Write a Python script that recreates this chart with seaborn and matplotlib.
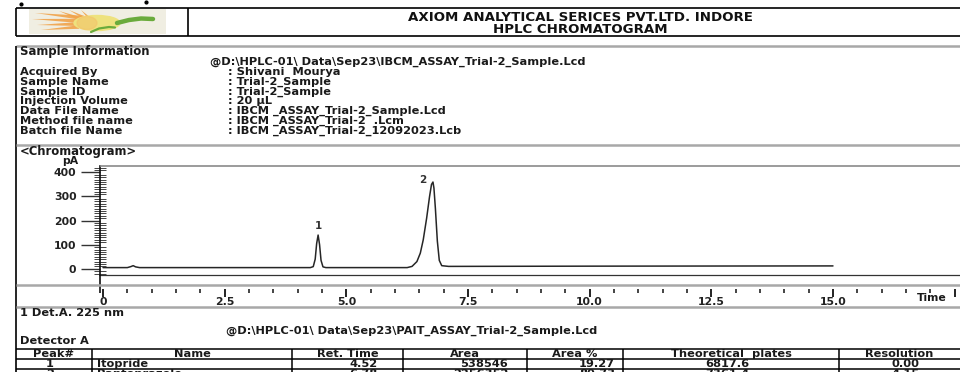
import matplotlib
matplotlib.use("Agg")
import matplotlib.pyplot as plt
from matplotlib.lines import Line2D
from matplotlib.patches import Rectangle, Ellipse, Polygon
from matplotlib.ticker import FixedLocator, MultipleLocator
import seaborn as sns
import pandas as pd

# ---------------- data ----------------
title_line1 = "AXIOM ANALYTICAL SERICES PVT.LTD. INDORE"
title_line2 = "HPLC CHROMATOGRAM"

info_path = "@D:\\HPLC-01\\ Data\\Sep23\\IBCM_ASSAY_Trial-2_Sample.Lcd"
info_labels = ["Acquired By", "Sample Name", "Sample ID", "Injection Volume",
               "Data File Name", "Method file name", "Batch file Name"]
info_values = [": Shivani  Mourya", ": Trial-2_Sample", ": Trial-2_Sample", ": 20 µL",
               ": IBCM _ASSAY_Trial-2_Sample.Lcd", ": IBCM _ASSAY_Trial-2  .Lcm",
               ": IBCM _ASSAY_Trial-2_12092023.Lcb"]

# chromatogram trace (time in min, signal in pA)
trace_time = [0.00, 0.50, 0.57, 0.62, 0.67, 0.75, 4.26, 4.32, 4.36, 4.39, 4.42,
              4.45, 4.48, 4.52, 4.58, 6.25, 6.35, 6.45, 6.52, 6.58, 6.65, 6.71,
              6.75, 6.78, 6.80, 6.83, 6.87, 6.91, 6.96, 7.10, 10.0, 15.0]
trace_pA = [5, 5, 9, 13, 8, 5, 5, 9, 40, 105, 140,
            100, 35, 8, 5, 5, 10, 30, 65, 120, 210, 300,
            350, 360, 335, 250, 115, 35, 13, 10, 11, 12]

peak_ids = ["1", "2"]
peak_time = [4.42, 6.77]
peak_height = [140, 361]

x_major = [0, 2.5, 5.0, 7.5, 10.0, 12.5, 15.0, 17.5]
x_labels = ["0", "2.5", "5.0", "7.5", "10.0", "12.5", "15.0", ""]
y_major = [0, 100, 200, 300, 400]
y_labels = ["0", "100", "200", "300", "400"]

det_label = "1 Det.A. 225 nm"
table_path = "@D:\\HPLC-01\\ Data\\Sep23\\PAIT_ASSAY_Trial-2_Sample.Lcd"
table_headers = ["Peak#", "Name", "Ret. Time", "Area", "Area %",
                 "Theoretical  plates", "Resolution"]
peak_no = ["1", "2"]
names = ["Itopride", "Pantoprazole"]
ret_time = ["4.52", "6.78"]
area = ["538546", "2256352"]
area_pct = ["19.27", "80.73"]
plates = ["6817.6", "7361.4"]
resolution = ["0.00", "4.15"]

# ---------------- figure ----------------
sns.set_theme(style="white")
plt.rcParams['font.family'] = ['DejaVu Sans']

W, H = 960, 372
fig = plt.figure(figsize=(W / 100, H / 100), dpi=100)
fig.patch.set_facecolor("white")


def X(px):
    return px / W


def Y(py):
    return 1 - py / H


def hline(y, x0, x1, color="black", lw=1.1):
    fig.add_artist(Line2D([X(x0), X(x1)], [Y(y), Y(y)], color=color, lw=lw,
                          transform=fig.transFigure, solid_capstyle="butt"))


def vline(x, y0, y1, color="black", lw=1.1):
    fig.add_artist(Line2D([X(x), X(x)], [Y(y0), Y(y1)], color=color, lw=lw,
                          transform=fig.transFigure, solid_capstyle="butt"))


def txt(x, y, s, ha="left", size=8.2, weight="bold", color="#1a1a1a", va="center"):
    fig.text(X(x), Y(y), s, ha=ha, va=va, fontsize=size,
             fontweight=weight, color=color)


GRAY = "#a8a8a8"

# header box
hline(8, 16, 960, lw=1.2)
hline(36, 16, 960, lw=1.2)
vline(16, 8, 36, lw=1.2)
vline(188, 8, 36, lw=1.2)
txt(580, 21.0, title_line1, ha="center", size=9.6, color="#111", va="baseline")
txt(580, 33.0, title_line2, ha="center", size=9.6, color="#111", va="baseline")
fig.add_artist(Line2D([X(21)], [Y(4)], marker="o", ms=2, color="black",
                      transform=fig.transFigure))
fig.add_artist(Line2D([X(146)], [Y(2)], marker="o", ms=2, color="black",
                      transform=fig.transFigure))

# logo
lg = fig.add_axes([X(29), Y(34), (166 - 29) / W, (34 - 9) / H])
lg.set_xlim(0, 137)
lg.set_ylim(25, 0)
lg.axis("off")
lg.add_patch(Rectangle((0, 0), 137, 25, color="#f0eee2"))
for (x0, y0, x1, y1, w) in [(6, 4, 55, 9, 2.2), (3, 10, 52, 12, 2.2), (8, 16, 50, 15, 2.0),
                            (12, 21, 50, 18, 1.8), (30, 2, 52, 10, 1.8), (40, 1, 56, 9, 1.6),
                            (52, 1, 60, 9, 1.6)]:
    lg.add_patch(Polygon([(x0, y0), (x1, y1 - w), (x1, y1 + w)], closed=True,
                         color="#f0a34a", alpha=0.9, lw=0))
lg.add_patch(Ellipse((68, 14), 46, 15, color="#eee27e"))
lg.add_patch(Ellipse((58, 14), 20, 13, color="#f3c46a", alpha=0.6))
lg.plot([88, 100, 112, 124], [14, 11, 9.5, 10], color="#6aab3c", lw=3.2,
        solid_capstyle="round")
lg.plot([62, 70, 80, 86], [23, 19.5, 18, 18.5], color="#6aab3c", lw=1.6)

# sample information
hline(46, 16, 960, color=GRAY, lw=1.8)
vline(16, 46, 372, lw=1.2)
txt(20, 51, "Sample Information", size=8.4)
txt(210, 62, info_path)
for i, (lab, val) in enumerate(zip(info_labels, info_values)):
    yy = 72 + i * 9.8
    txt(20, yy, lab)
    txt(228, yy, val)

hline(145, 16, 960, color=GRAY, lw=1.8)
txt(20, 151, "<Chromatogram>", size=8.4)
txt(70, 161, "pA", ha="center", size=7.8)

# chromatogram axes
ax = fig.add_axes([X(100), Y(275), (960 - 100) / W, (275 - 166) / H])
df = pd.DataFrame({"time": trace_time, "signal": trace_pA})
sns.lineplot(data=df, x="time", y="signal", ax=ax, color="#262626", lw=1.1,
             estimator=None, sort=False)
ax.set_xlim(-0.062, 17.61)
ax.set_ylim(-25.7, 426.5)
ax.set_xlabel("")
ax.set_ylabel("")
ax.set_facecolor("white")
ax.grid(False)

for pid, t, h in zip(peak_ids, peak_time, peak_height):
    if pid == "1":
        off = (0, 3)
    else:
        off = (-7, -2)
    ax.annotate(pid, (t, h), xytext=off, textcoords="offset points",
                ha="center", va="bottom", fontsize=7.5, fontweight="bold",
                color="#333")

for s in ["top", "right"]:
    ax.spines[s].set_visible(False)
ax.spines["left"].set_color("#111")
ax.spines["left"].set_linewidth(1.2)
ax.spines["bottom"].set_position(("outward", 10))
ax.spines["bottom"].set_visible(False)
ax.axhline(ax.get_ylim()[0], color="#333", lw=0.9, clip_on=False)
hline(166, 100, 960, color="#8a8a8a", lw=1.2)

ax.xaxis.set_major_locator(FixedLocator(x_major))
ax.set_xticklabels(x_labels)
ax.xaxis.set_minor_locator(MultipleLocator(0.5))
ax.tick_params(axis="x", which="major", direction="out", length=6, width=1.3,
               color="#111", pad=-0.5, labelsize=7.8, labelcolor="#222",
               bottom=True)
ax.tick_params(axis="x", which="minor", direction="out", length=3.2, width=1.1,
               color="#111", bottom=True)
for lbl in ax.get_xticklabels():
    lbl.set_fontweight("bold")

ax.yaxis.set_major_locator(FixedLocator(y_major))
ax.set_yticklabels(y_labels)
ax.yaxis.set_minor_locator(FixedLocator(list(range(-20, 430, 10))))
ax.tick_params(axis="y", which="major", direction="out", length=14, width=1.0,
               color="#333", pad=3, labelsize=7.8, labelcolor="#222", left=True)
ax.tick_params(axis="y", which="minor", direction="inout", length=9, width=0.7,
               color="#444", left=True)
for lbl in ax.get_yticklabels():
    lbl.set_fontweight("bold")

vline(100, 275, 293, color="#111", lw=1.2)
hline(285, 16, 960, color=GRAY, lw=1.8)
txt(917, 298, "Time", size=7.8)
hline(307, 16, 960, color=GRAY, lw=1.8)

# lower text and table
txt(20, 313, det_label)
txt(226, 331, table_path)
txt(20, 341, "Detector A")

col_edges = [16, 92, 292, 403, 527, 623, 839, 960]
for yy in [349, 359, 369]:
    hline(yy, 16, 960, lw=1.1)
for xx in col_edges[1:-1]:
    vline(xx, 349, 372, lw=1.1)

for i, hd in enumerate(table_headers):
    cx = (col_edges[i] + col_edges[i + 1]) / 2
    txt(cx, 354, hd, ha="center")

rows = list(zip(peak_no, names, ret_time, area, area_pct, plates, resolution))
for r, row in enumerate(rows):
    yy = 364 + r * 10
    txt(50, yy, row[0], ha="center")
    txt(97, yy, row[1])
    txt(378, yy, row[2], ha="right")
    txt(508, yy, row[3], ha="right")
    txt(615, yy, row[4], ha="right")
    txt(727, yy, row[5], ha="center")
    txt(905, yy, row[6], ha="center")

fig.savefig("out.png", dpi=100, facecolor="white")
